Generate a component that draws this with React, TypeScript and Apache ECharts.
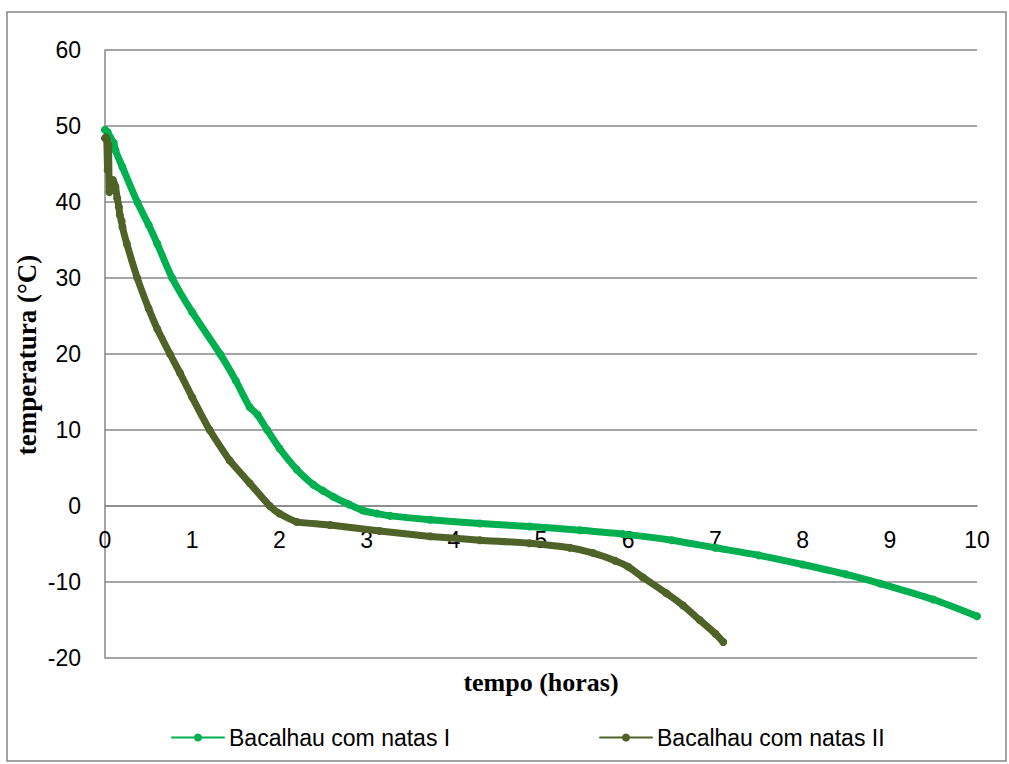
import React, { useEffect, useRef } from "react";
import * as echarts from "echarts";

const seriesNames = ["Bacalhau com natas I", "Bacalhau com natas II"];

const timeI = [0, 0.03, 0.06, 0.1, 0.12, 0.2, 0.37, 0.5, 0.6, 0.77, 1.0, 1.32, 1.5, 1.66, 1.75, 1.86, 2.0, 2.2, 2.39, 2.5, 2.62, 2.8, 2.96, 3.12, 3.27, 3.73, 4.3, 4.87, 5.45, 5.94, 6.5, 7.0, 7.5, 8.0, 8.5, 8.89, 9.5, 10.0];
const tempI = [49.5, 49.2, 48.5, 47.8, 46.8, 44.6, 40, 37, 34.5, 30, 25.5, 20, 16.5, 13.0, 12.0, 10, 7.6, 4.8, 2.8, 2.0, 1.2, 0.2, -0.6, -1.0, -1.3, -1.8, -2.3, -2.7, -3.2, -3.7, -4.5, -5.5, -6.5, -7.7, -9.0, -10.2, -12.3, -14.5];

const timeII = [0, 0.01, 0.02, 0.03, 0.04, 0.05, 0.07, 0.09, 0.12, 0.14, 0.16, 0.17, 0.19, 0.2, 0.25, 0.37, 0.5, 0.6, 0.745, 0.86, 1.0, 1.2, 1.43, 1.66, 1.89, 2.0, 2.2, 2.58, 3.15, 3.73, 4.3, 4.87, 5.33, 5.6, 5.85, 6.0, 6.17, 6.44, 6.63, 6.82, 7.0, 7.09];
const tempII = [48.4, 48.5, 48.2, 44.2, 47.5, 41.3, 42.5, 42.9, 42.0, 40.5, 39.3, 38.3, 37.5, 36.7, 34.5, 30, 26, 23.3, 20, 17.5, 14.3, 10, 6, 3, 0, -1, -2.1, -2.5, -3.3, -4.0, -4.5, -4.9, -5.5, -6.2, -7.2, -8.0, -9.4, -11.5, -13.1, -15.0, -16.8, -17.9];

const yTicks = { min: -20, max: 60, interval: 10 };
const xTicks = { min: 0, max: 10, interval: 1 };

const colors = ["#00B050", "#4F6228"];

export default function App() {
  const ref = useRef<HTMLDivElement>(null);
  useEffect(() => {
    if (!ref.current) return;
    const chart = echarts.init(ref.current, undefined, { renderer: "svg" });
    const gray = "#878787";
    const sans = "'Liberation Sans', Arial, sans-serif";
    const serif = "'Liberation Serif', 'Times New Roman', serif";
    const mk = (t: number[], v: number[]) => t.map((x, i) => [x, v[i]]);
    chart.setOption({
      animation: false,
      backgroundColor: "#ffffff",
      grid: { left: 105, top: 50, right: 32, bottom: 106, containLabel: false },
      xAxis: {
        type: "value",
        min: xTicks.min,
        max: xTicks.max,
        interval: xTicks.interval,
        position: "bottom",
        offset: -152,
        axisLine: { show: true, onZero: false, lineStyle: { color: gray, width: 1.5 } },
        axisTick: { show: false },
        splitLine: { show: false },
        axisLabel: { color: "#000", fontSize: 23, fontFamily: sans, margin: 22 },
      },
      yAxis: {
        type: "value",
        min: yTicks.min,
        max: yTicks.max,
        interval: yTicks.interval,
        axisLine: { show: true, onZero: false, lineStyle: { color: gray, width: 1.5 } },
        axisTick: { show: false },
        splitLine: { show: true, lineStyle: { color: gray, width: 1.5 } },
        axisLabel: { color: "#000", fontSize: 23, fontFamily: sans, margin: 24 },
      },
      legend: [
        {
          data: [seriesNames[0]],
          left: 166,
          top: 721,
          itemWidth: 52,
          itemHeight: 10,
          itemGap: 0,
          textStyle: { color: "#000", fontSize: 23, fontFamily: sans },
        },
        {
          data: [seriesNames[1]],
          left: 594,
          top: 721,
          itemWidth: 52,
          itemHeight: 10,
          itemGap: 0,
          textStyle: { color: "#000", fontSize: 23, fontFamily: sans },
        },
      ],
      series: [
        {
          name: seriesNames[0],
          type: "line",
          data: mk(timeI, tempI),
          color: colors[0],
          symbol: "circle",
          symbolSize: 8,
          showSymbol: true,
          smooth: 0.25,
          lineStyle: { width: 7, color: colors[0], cap: "round", join: "round" },
          itemStyle: { color: colors[0] },
          z: 2,
        },
        {
          name: seriesNames[1],
          type: "line",
          data: mk(timeII, tempII),
          color: colors[1],
          symbol: "circle",
          symbolSize: 8,
          showSymbol: true,
          smooth: 0.15,
          lineStyle: { width: 7, color: colors[1], cap: "round", join: "round" },
          itemStyle: { color: colors[1] },
          z: 3,
        },
      ],
      graphic: [
        {
          type: "rect",
          shape: { x: 7, y: 12, width: 999, height: 749 },
          style: { fill: "none", stroke: gray, lineWidth: 1.5 },
          silent: true,
          z: -1,
        },
        {
          type: "text",
          x: 541,
          y: 682,
          style: {
            text: "tempo (horas)",
            font: `bold 26px ${serif}`,
            fill: "#000",
            align: "center",
            verticalAlign: "middle",
          },
        },
        {
          type: "text",
          x: 27,
          y: 355,
          rotation: Math.PI / 2,
          style: {
            text: "temperatura (°C)",
            font: `bold 27px ${serif}`,
            fill: "#000",
            align: "center",
            verticalAlign: "middle",
          },
        },
      ],
    });
    return () => chart.dispose();
  }, []);
  return <div ref={ref} style={{ width: 1009, height: 764, position: "absolute", left: 0, top: 0 }} />;
}
